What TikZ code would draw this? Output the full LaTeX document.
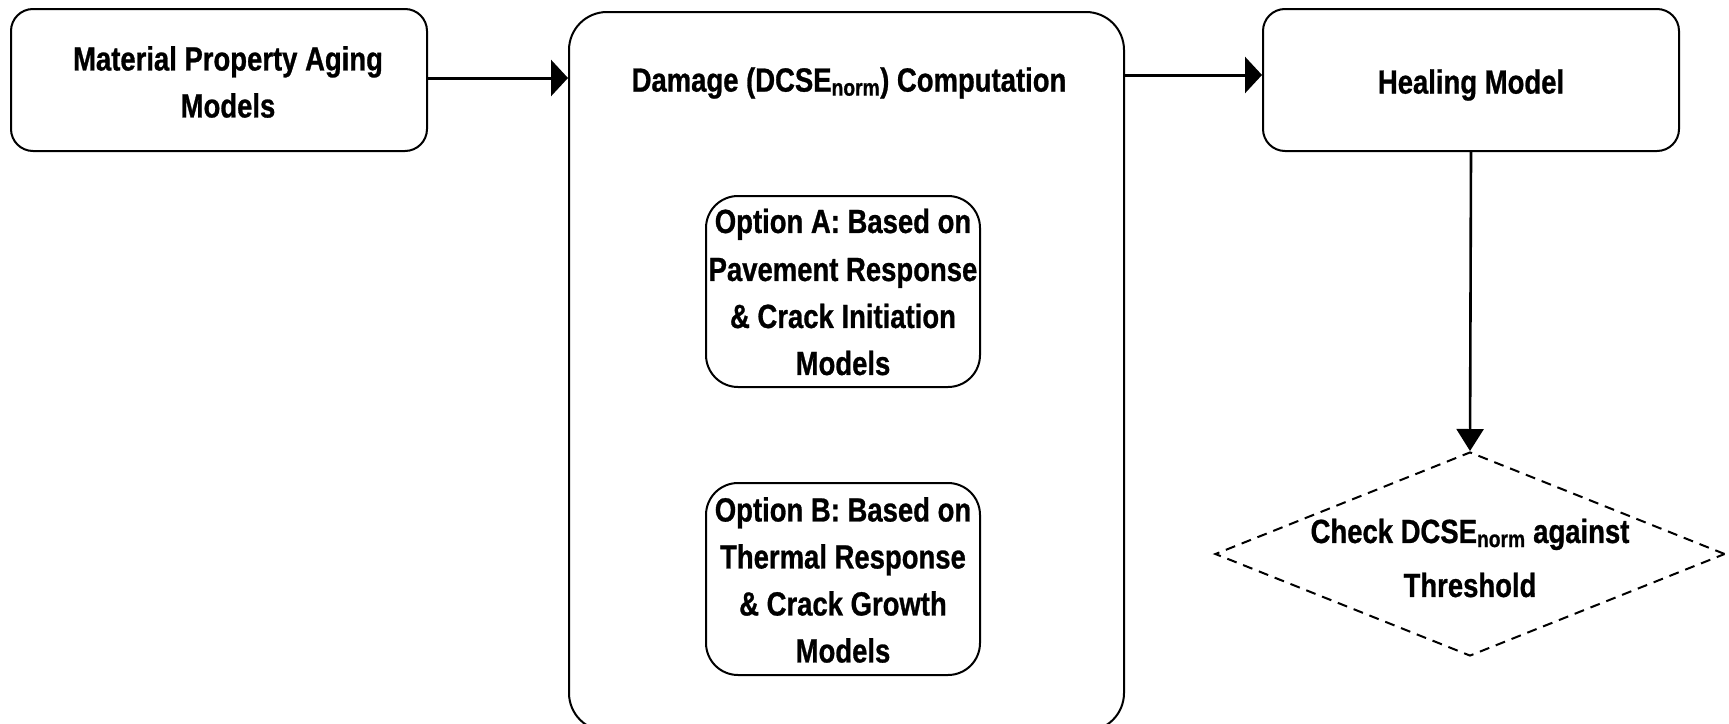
\documentclass[tikz,border=0pt]{standalone}
\usepackage{fontspec}
\setmainfont{Liberation Sans}[FakeStretch=0.82, BoldFeatures={FakeBold=0.8}]
\usetikzlibrary{arrows.meta,shapes.geometric}
\tikzset{
  box/.style={draw, line width=2pt, align=center, inner sep=0pt},
  lbl/.style={align=center, inner sep=0pt, font=\bfseries\fontsize{33.5pt}{47pt}\selectfont},
  harrow/.style={line width=3pt, -{Triangle[length=17pt,width=36pt]}},
  varrow/.style={line width=2.6pt, -{Triangle[length=22pt,width=27pt]}},
}
\begin{document}
\begin{tikzpicture}[x=1pt,y=-1pt]
\useasboundingbox (0,0) rectangle (1729,723);
\clip (0,0) rectangle (1729,723);
% left box
\node[box, rounded corners=22pt, minimum width=416pt, minimum height=142pt] (lbox) at (219,80) {};
\node[lbl] (ltxt) at (228,82) {Material Property Aging\\Models};
% middle box
\node[box, rounded corners=38pt, minimum width=555pt, minimum height=719pt] (mid) at (846.5,371.5) {};
\node[lbl] (mtxt) at (849,83) {Damage (DCSE\textsubscript{norm}) Computation};
% option boxes
\node[box, rounded corners=32pt, minimum width=274pt, minimum height=191pt] (optA) at (843,291.5) {};
\node[lbl] (atxt) at (843,292) {Option A: Based on\\[1pt]Pavement Response\\\& Crack Initiation\\Models};
\node[box, rounded corners=32pt, minimum width=274pt, minimum height=192pt] (optB) at (843,579) {};
\node[lbl] (btxt) at (843,580) {Option B: Based on\\Thermal Response\\\& Crack Growth\\Models};
% healing box
\node[box, rounded corners=22pt, minimum width=416pt, minimum height=142pt] (heal) at (1471,80) {};
\node[lbl] (htxt) at (1471,85) {Healing Model};
% diamond
\node[draw, diamond, line width=2pt, dash pattern=on 10pt off 7pt, minimum width=510pt, minimum height=204pt, inner sep=0pt] (chk) at (1470,554) {};
\node[lbl] (ctxt) at (1470,558) {Check DCSE\textsubscript{norm} against\\[7pt]Threshold};
% connectors
\draw[harrow] (lbox.east |- 0,78) -- (mid.west |- 0,78);
\draw[harrow] (mid.east |- 0,75) -- (heal.west |- 0,75);
\draw[varrow] (heal.south) -- (chk.north);
\end{tikzpicture}
\end{document}
